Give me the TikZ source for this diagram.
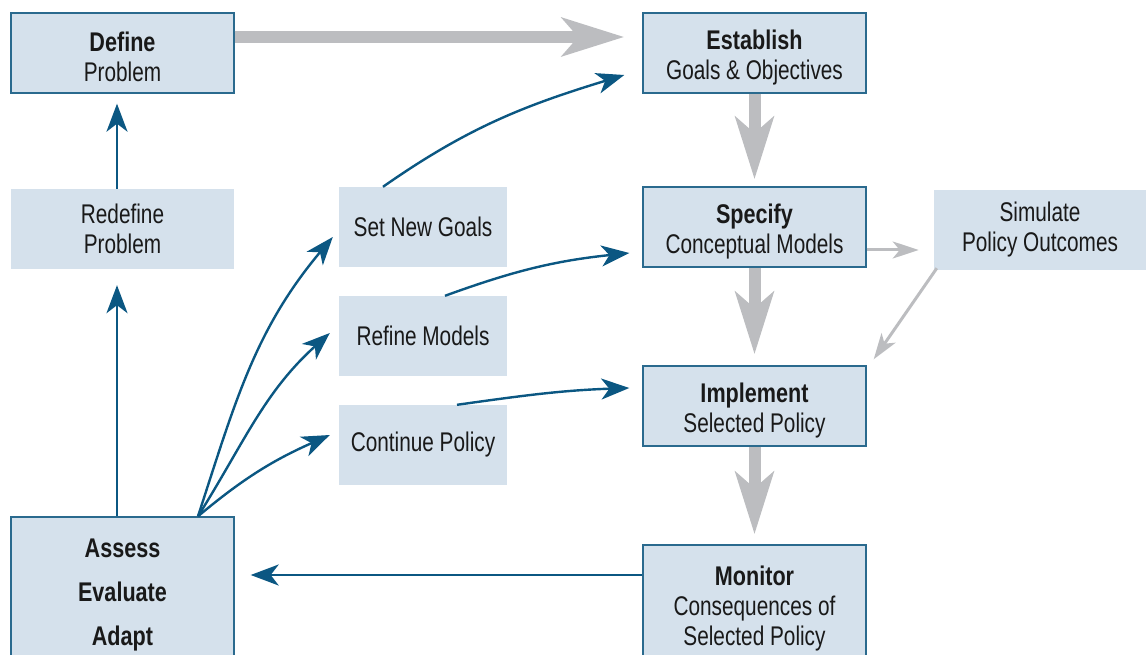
\documentclass[tikz,border=0pt]{standalone}
\usepackage{fontspec}
\setmainfont{Liberation Sans}[FakeStretch=0.77, BoldFeatures={FakeStretch=0.8}]
\usepackage{tikz}
\usetikzlibrary{arrows.meta}

\definecolor{boxfill}{HTML}{D5E1EC}
\definecolor{boxline}{HTML}{2A6A8E}
\definecolor{flowblue}{HTML}{0B5782}
\definecolor{flowgray}{HTML}{BCBDC0}
\newcommand{\topgap}{\rule{0pt}{28pt}}

\begin{document}
\begin{tikzpicture}[x=1pt,y=1pt,
  txt/.style={align=center, text=black!90, font=\fontsize{27}{30}\selectfont, inner sep=0pt},
  stage/.style={txt, fill=boxfill, draw=boxline, line width=1.4pt, minimum width=223pt, minimum height=80pt},
  side/.style={txt, fill=boxfill, minimum width=223pt, minimum height=80pt},
  small/.style={side, minimum width=168pt},
  bigflow/.style={-{Stealth[length=62pt,width=38pt,inset=16pt]}, line width=12pt, flowgray},
  thinflow/.style={-{Stealth[length=26pt,width=17pt,inset=7pt]}, line width=3pt, flowgray},
  loop/.style={-{Stealth[length=28pt,width=21pt,inset=8pt]}, line width=2.4pt, flowblue}]
\useasboundingbox (0,0) rectangle (1146,-655);
\clip (0,0) rectangle (1146,-655);
% Main stages
\node[stage] (define) at (122.5,-53) {\topgap\textbf{Define}\\Problem};
\node[stage] (establish) at (754.5,-53) {\topgap\textbf{Establish}\\Goals \& Objectives};
\node[stage] (specify) at (754.5,-227) {\topgap\textbf{Specify}\\Conceptual Models};
\node[stage] (implement) at (754.5,-406) {\topgap\textbf{Implement}\\Selected Policy};
\node[stage, minimum height=118pt] (monitor) at (754.5,-604) {\topgap\textbf{Monitor}\\Consequences of\\Selected Policy};
\node[stage, minimum height=146pt] (assess) at (122.5,-590) {\topgap\textbf{Assess}\\[14pt]\textbf{Evaluate}\\[14pt]\textbf{Adapt}};
% Side boxes
\node[side] (redefine) at (122.5,-229) {Redefine\\Problem};
\node[side, minimum width=212pt, minimum height=79pt] (simulate) at (1040,-230) {Simulate\\Policy Outcomes};
\node[small] (newgoals) at (423,-227) {Set New Goals};
\node[small] (refine) at (423,-336) {Refine Models};
\node[small] (continue) at (423,-445) {Continue Policy};
% Gray flow
\draw[bigflow] ([yshift=16pt]define.east) -- ([xshift=-18pt,yshift=16pt]establish.west);
\draw[bigflow] (establish.south) -- ([yshift=7pt]specify.north);
\draw[bigflow] (specify.south) -- ([yshift=11pt]implement.north);
\draw[bigflow] (implement.south) -- ([yshift=10pt]monitor.north);
\draw[thinflow] ([yshift=-23pt]specify.east) -- ++(52,0);
\draw[thinflow] ([xshift=3pt,yshift=1.5pt]simulate.south west) -- ([xshift=7pt,yshift=6pt]implement.north east);
% Feedback loop
\draw[loop] (monitor.west |- 0,-575) -- ([xshift=16pt]assess.east |- 0,-575);
\draw[loop] ([xshift=-5.5pt]assess.north) -- ([xshift=-5.5pt,yshift=-16pt]redefine.south);
\draw[loop] ([xshift=-5.5pt]redefine.north) -- ([xshift=-5.5pt,yshift=-10pt]define.south);
\draw[loop] ([xshift=75.5pt]assess.north) to[out=72,in=230] ([xshift=-6pt,yshift=-10pt]newgoals.west);
\draw[loop] ([xshift=75.5pt]assess.north) to[out=58,in=222] ([xshift=-9pt,yshift=3pt]refine.west);
\draw[loop] ([xshift=75.5pt]assess.north) to[out=40,in=204] ([xshift=-9pt,yshift=10pt]continue.west);
\draw[loop] ([xshift=-40pt]newgoals.north) to[out=35,in=197] ([xshift=-18pt,yshift=-22pt]establish.west);
\draw[loop] ([xshift=22pt]refine.north) to[out=20,in=186] ([xshift=-13pt,yshift=-26pt]specify.west);
\draw[loop] ([xshift=34pt]continue.north) to[out=8,in=182] ([xshift=-13pt,yshift=18pt]implement.west);
\end{tikzpicture}
\end{document}
